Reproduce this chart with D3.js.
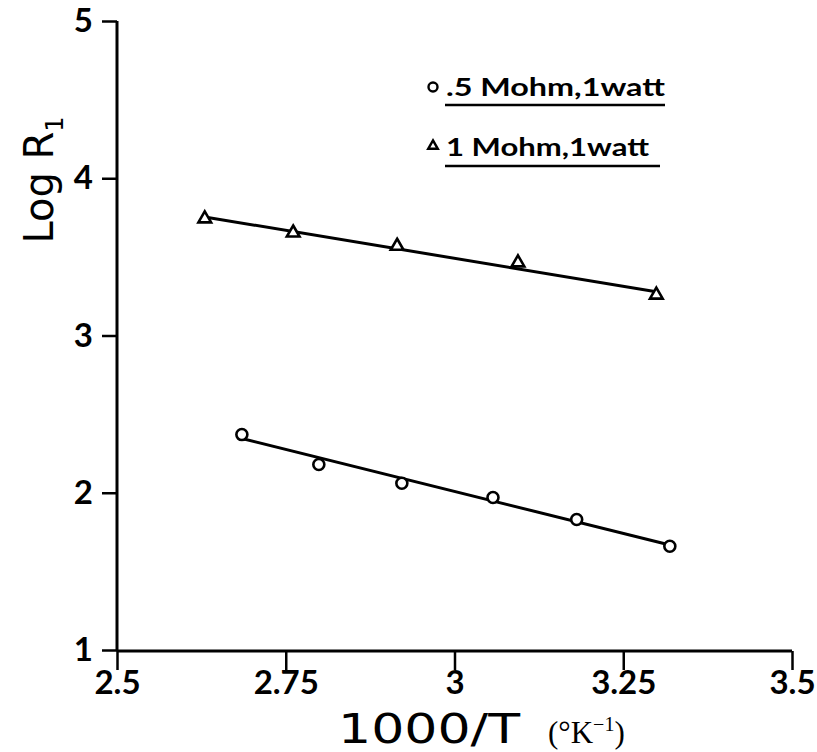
<!DOCTYPE html>
<html><head><meta charset="utf-8">
<script src="https://cdn.jsdelivr.net/npm/d3@7/dist/d3.min.js"></script>
<style>body{margin:0;background:#fff}</style>
</head><body>
<svg id="c" width="817" height="752"></svg>
<script>
// Data
const xTicks = [2.5, 2.75, 3, 3.25, 3.5];
const xTickLabels = ["2.5", "2.75", "3", "3.25", "3.5"];
const yTicks = [1, 2, 3, 4, 5];
const yTickLabels = ["1", "2", "3", "4", "5"];
const seriesNames = [".5 Mohm,1watt", "1 Mohm,1watt"];
// .5 Mohm (circles)
const circX = [2.685, 2.799, 2.922, 3.057, 3.181, 3.319];
const circY = [2.37, 2.18, 2.06, 1.97, 1.83, 1.66];
const circFitX = [2.682, 3.319];
const circFitY = [2.348, 1.668];
// 1 Mohm (triangles)
const triX = [2.630, 2.761, 2.915, 3.094, 3.299];
const triY = [3.73, 3.64, 3.556, 3.45, 3.245];
const triFitX = [2.630, 3.301];
const triFitY = [3.754, 3.277];

const svg = d3.select("#c");
const x = d3.scaleLinear().domain([2.5, 3.5]).range([117, 792]);
const y = d3.scaleLinear().domain([1, 5]).range([650, 21]);
const font = "Lato, 'Open Sans', sans-serif";

// axes
const xAxis = d3.axisBottom(x).tickValues(xTicks).tickFormat((d,i)=>xTickLabels[i]).tickSize(19).tickPadding(1);
const gx = svg.append("g").attr("transform","translate(0,651)").call(xAxis);
gx.select(".domain").attr("d", `M${x(2.5)},0H${x(3.5)}`).attr("stroke","#000").attr("stroke-width",3);
gx.selectAll(".tick line").attr("stroke","#000").attr("stroke-width",2.5);
gx.selectAll(".tick text").style("font-family",font).style("font-weight","bold").style("font-size","33px").attr("fill","#000");

const yAxis = d3.axisLeft(y).tickValues(yTicks).tickFormat((d,i)=>yTickLabels[i]).tickSize(15).tickPadding(9);
const gy = svg.append("g").attr("transform","translate(117,0)").call(yAxis);
gy.select(".domain").attr("d", `M0,${y(1)}V${y(5)}`).attr("stroke","#000").attr("stroke-width",3);
gy.selectAll(".tick line").attr("stroke","#000").attr("stroke-width",2.5);
gy.selectAll(".tick text").style("font-family",font).style("font-weight","bold").style("font-size","33px").attr("fill","#000");

// fit lines
const line = d3.line().x(d=>x(d[0])).y(d=>y(d[1]));
svg.append("path").attr("d", line(circFitX.map((v,i)=>[v,circFitY[i]])))
  .attr("stroke","#000").attr("stroke-width",3).attr("fill","none");
svg.append("path").attr("d", line(triFitX.map((v,i)=>[v,triFitY[i]])))
  .attr("stroke","#000").attr("stroke-width",3).attr("fill","none");

// markers
svg.selectAll(".circ").data(circX.map((v,i)=>[v,circY[i]])).enter().append("circle")
  .attr("cx",d=>x(d[0])).attr("cy",d=>y(d[1])).attr("r",5.5)
  .attr("fill","#fff").attr("stroke","#000").attr("stroke-width",2.6);
const tri = d3.symbol().type(d3.symbolTriangle).size(70);
svg.selectAll(".tri").data(triX.map((v,i)=>[v,triY[i]])).enter().append("path")
  .attr("d", tri).attr("transform",d=>`translate(${x(d[0])},${y(d[1])-2})`)
  .attr("fill","#fff").attr("stroke","#000").attr("stroke-width",2.6);

// legend
const lg = svg.append("g");
lg.append("circle").attr("cx",433).attr("cy",87).attr("r",4.5).attr("fill","#fff").attr("stroke","#000").attr("stroke-width",2.4);
lg.append("path").attr("d", d3.symbol().type(d3.symbolTriangle).size(40)).attr("transform","translate(433,146)")
  .attr("fill","#fff").attr("stroke","#000").attr("stroke-width",2.4);
const lt = [[seriesNames[0], 446, 96, 665, 105], [seriesNames[1], 446, 156, 660, 166]];
lt.forEach(([t, tx, ty, ux, uy])=>{
  lg.append("text").attr("x",tx).attr("y",ty).text(t).attr("font-family",font).attr("font-weight","bold")
    .attr("font-size",25).attr("fill","#000").attr("textLength", t.startsWith(".")?219:203).attr("lengthAdjust","spacingAndGlyphs");
  lg.append("line").attr("x1",tx-1).attr("x2",ux).attr("y1",uy).attr("y2",uy).attr("stroke","#000").attr("stroke-width",2.5);
});

// axis titles
const xt = svg.append("text").attr("y",743).attr("fill","#000");
xt.append("tspan").attr("x",338).text("1000/T").attr("font-family","'DejaVu Sans', sans-serif").attr("font-size",40)
  .attr("textLength",182).attr("lengthAdjust","spacingAndGlyphs");
xt.append("tspan").attr("x",548).text("(°K").attr("font-family","'Liberation Serif', serif").attr("font-size",31);
xt.append("tspan").text("−1").attr("font-family","'Liberation Serif', serif").attr("font-size",20).attr("dy",-12);
xt.append("tspan").text(")").attr("font-family","'Liberation Serif', serif").attr("font-size",31).attr("dy",12);

const yt = svg.append("text").attr("transform","translate(53,180) rotate(-90)").attr("text-anchor","middle").attr("fill","#000")
  .attr("font-family","'DejaVu Sans', sans-serif").attr("font-size",40);
yt.append("tspan").text("Log R");
yt.append("tspan").text("1").attr("font-size",24).attr("dy",10);
</script>
</body></html>
